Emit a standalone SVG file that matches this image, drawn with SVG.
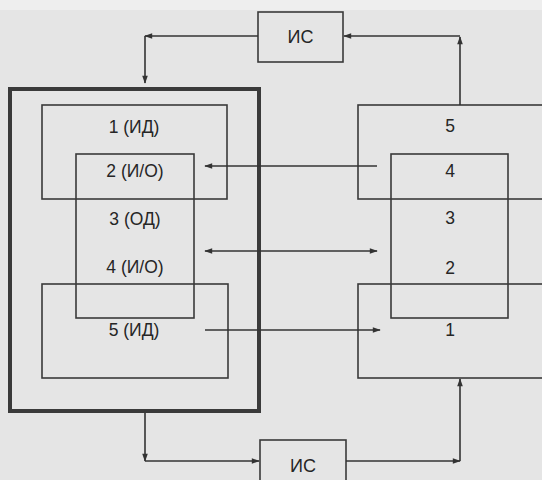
<svg xmlns="http://www.w3.org/2000/svg" width="542" height="480" viewBox="0 0 542 480">
<defs>
<marker id="ah" viewBox="0 0 10 10" refX="9" refY="5" markerWidth="10" markerHeight="8" orient="auto-start-reverse" markerUnits="userSpaceOnUse">
<path d="M0,1.5 L10,5 L0,8.5 z" fill="#333"/>
</marker>
<style>
.b{fill:none;stroke:#3a3a3a;stroke-width:1.6}
.t{font-family:"Liberation Sans",Arial,sans-serif;font-size:17.5px;fill:#262626;text-anchor:middle}
.c{fill:none;stroke:#333;stroke-width:1.6}
</style>
</defs>
<rect width="542" height="480" fill="#e5e5e5"/>
<rect x="0" y="0" width="542" height="10" fill="#eeeeee"/>
<g id="is-top"><rect class="b" x="258" y="12" width="85" height="50"/><text class="t" x="300.5" y="43" style="font-size:18px">ИС</text></g>
<g id="outer"><rect x="10" y="89" width="249" height="322" fill="none" stroke="#3a3a3a" stroke-width="4"/></g>
<g id="l1"><rect class="b" x="42" y="105" width="185" height="94"/><text class="t" x="134" y="133">1 (ИД)</text></g>
<g id="l234"><rect class="b" x="76" y="154" width="118" height="164"/><text class="t" x="135" y="177">2 (И/О)</text><text class="t" x="135" y="225">3 (ОД)</text><text class="t" x="135" y="273">4 (И/О)</text></g>
<g id="l5"><rect class="b" x="42" y="284" width="186" height="94"/><text class="t" x="134" y="336">5 (ИД)</text></g>
<g id="r5"><rect class="b" x="358" y="105" width="200" height="94"/><text class="t" x="450" y="132">5</text></g>
<g id="r432"><rect class="b" x="391" y="154" width="117" height="164"/><text class="t" x="450" y="177">4</text><text class="t" x="450" y="224">3</text><text class="t" x="450" y="274">2</text></g>
<g id="r1"><rect class="b" x="358" y="284" width="200" height="94"/><text class="t" x="450" y="336">1</text></g>
<g id="is-bottom"><rect class="b" x="260" y="440" width="86" height="50"/><text class="t" x="303" y="472" style="font-size:18px">ИС</text></g>
<g id="connectors">
<line class="c" x1="258" y1="36" x2="145" y2="36" marker-end="url(#ah)"/>
<line class="c" x1="145" y1="36" x2="145" y2="83" marker-end="url(#ah)"/>
<line class="c" x1="460" y1="105" x2="460" y2="37" marker-end="url(#ah)"/>
<line class="c" x1="460" y1="36" x2="344" y2="36" marker-end="url(#ah)"/>
<line class="c" x1="377" y1="166" x2="205" y2="166" marker-end="url(#ah)"/>
<line class="c" x1="205" y1="251" x2="377" y2="251" marker-start="url(#ah)" marker-end="url(#ah)"/>
<line class="c" x1="205" y1="330" x2="380" y2="330" marker-end="url(#ah)"/>
<line class="c" x1="145" y1="413" x2="145" y2="461" marker-end="url(#ah)"/>
<line class="c" x1="145" y1="461" x2="259" y2="461" marker-end="url(#ah)"/>
<line class="c" x1="346" y1="461" x2="460" y2="461" marker-end="url(#ah)"/>
<line class="c" x1="460" y1="461" x2="460" y2="379" marker-end="url(#ah)"/>
</g>
</svg>
